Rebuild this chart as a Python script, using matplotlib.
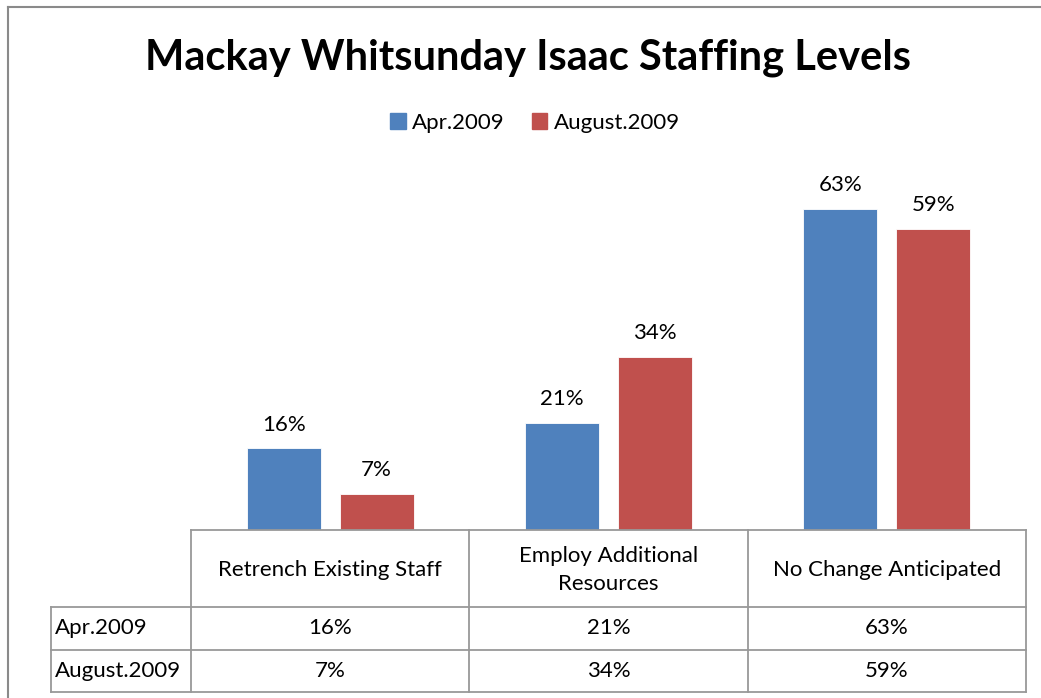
import numpy as np
import matplotlib.pyplot as plt
from matplotlib.lines import Line2D
from matplotlib.patches import Rectangle

plt.rcParams['font.family'] = ['Lato', 'DejaVu Sans']

categories = ["Retrench Existing Staff", "Employ Additional\nResources", "No Change Anticipated"]
series_names = ["Apr.2009", "August.2009"]
apr_2009 = [16, 21, 63]
aug_2009 = [7, 34, 59]
colors = ["#4F81BD", "#C0504D"]

W, H = 1041, 698
fig = plt.figure(figsize=(W / 100, H / 100), dpi=100)

def fx(px):
    return px / W

def fy(py):
    return 1 - py / H

# plot area (pixel layout)
left, right, base, top = 191, 1026, 530, 173
ax = fig.add_axes([fx(left), fy(base), fx(right - left), fy(top) - fy(base)])
x = np.arange(len(categories))
bw = 0.265
off = 0.167
for vals, c, d in zip([apr_2009, aug_2009], colors, [-off, off]):
    bars = ax.bar(x + d, vals, bw, color=c, edgecolor="white", linewidth=0.6)
    for b, v in zip(bars, vals):
        ax.annotate(f"{v}%", (b.get_x() + b.get_width() / 2, v), xytext=(0, 10),
                    textcoords="offset points", ha="center", va="bottom", fontsize=16)
ax.set_xlim(-0.5, len(categories) - 0.5)
ax.set_ylim(0, 70)
ax.axis("off")

# title and legend
fig.text(fx(528), fy(58), "Mackay Whitsunday Isaac Staffing Levels", ha="center", va="center",
         fontsize=30, fontweight="bold")
handles = [Rectangle((0, 0), 1, 1, color=c) for c in colors]
fig.legend(handles, series_names, loc="center", bbox_to_anchor=(fx(535), fy(123)), ncol=2,
           frameon=False, fontsize=16, handlelength=0.7, handleheight=0.7,
           handletextpad=0.3, columnspacing=1.2)

# outer chart border (top and left only visible)
border = "#8a8a8a"
fig.add_artist(Line2D([fx(8), 1], [fy(7), fy(7)], color=border, lw=1.5, transform=fig.transFigure))
fig.add_artist(Line2D([fx(8), fx(8)], [fy(7), 0], color=border, lw=1.5, transform=fig.transFigure))

# data table
grid = "#999999"
col_edges = [left + (right - left) * i / len(categories) for i in range(len(categories) + 1)]
label_left = 51
row_edges = [base, 607, 650, 692]

def hline(y, x0, x1):
    fig.add_artist(Line2D([fx(x0), fx(x1)], [fy(y), fy(y)], color=grid, lw=1.3, transform=fig.transFigure))

def vline(xp, y0, y1):
    fig.add_artist(Line2D([fx(xp), fx(xp)], [fy(y0), fy(y1)], color=grid, lw=1.3, transform=fig.transFigure))

hline(base, left, right)
for yy in row_edges[1:]:
    hline(yy, label_left, right)
for xe in col_edges:
    vline(xe, base, row_edges[-1])
vline(label_left, row_edges[1], row_edges[-1])

for i, cat in enumerate(categories):
    cx = (col_edges[i] + col_edges[i + 1]) / 2
    fig.text(fx(cx), fy((row_edges[0] + row_edges[1]) / 2 + 1), cat, ha="center", va="center",
             fontsize=16, linespacing=1.5)
for r, (name, vals) in enumerate(zip(series_names, [apr_2009, aug_2009])):
    cy = (row_edges[r + 1] + row_edges[r + 2]) / 2
    fig.text(fx(label_left + 4), fy(cy), name, ha="left", va="center", fontsize=16)
    for i, v in enumerate(vals):
        cx = (col_edges[i] + col_edges[i + 1]) / 2
        fig.text(fx(cx), fy(cy), f"{v}%", ha="center", va="center", fontsize=16)

fig.savefig("out.png", dpi=100)
